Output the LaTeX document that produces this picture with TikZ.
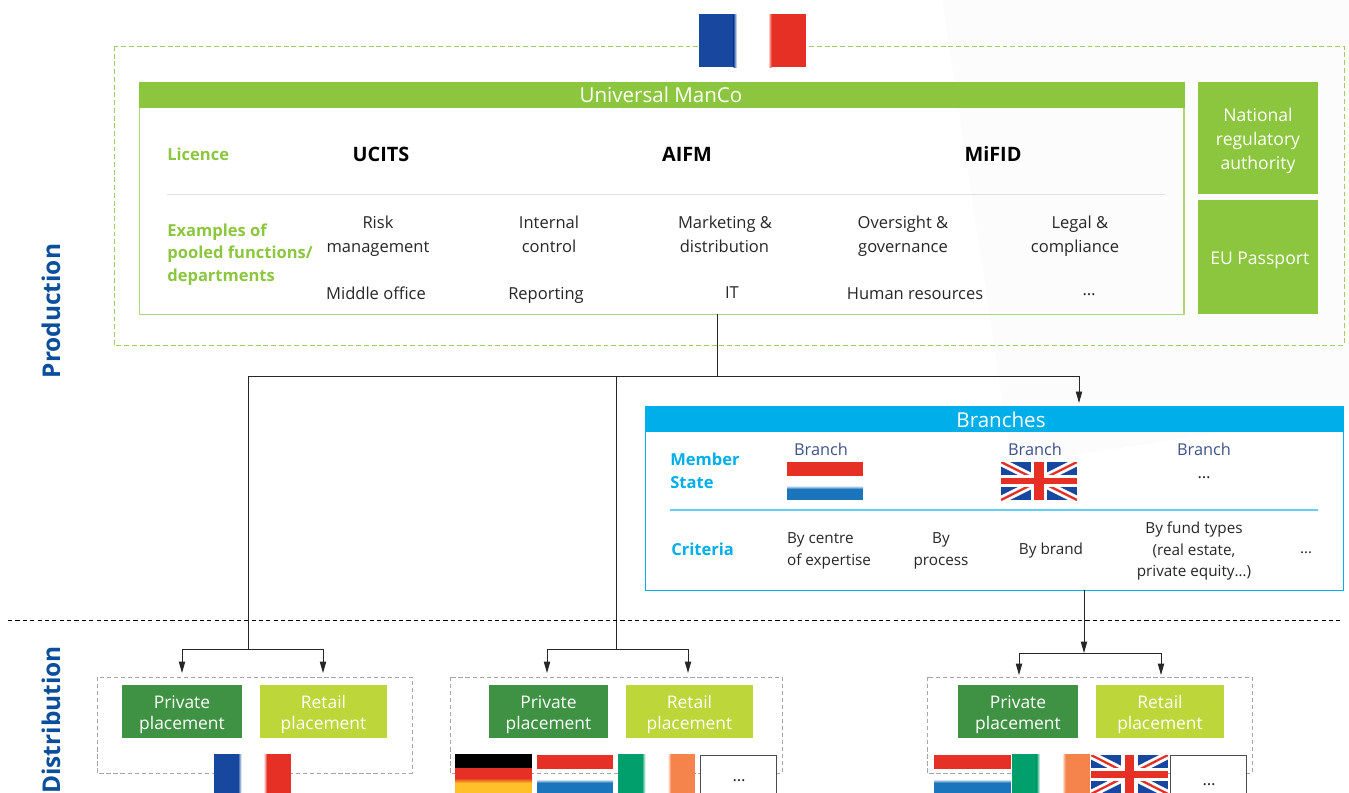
\documentclass[tikz,border=0pt]{standalone}
\usepackage{fontspec}
\setmainfont{Open Sans}
\usetikzlibrary{arrows.meta}

\definecolor{mancogreen}{HTML}{8CC63F}
\definecolor{branchblue}{HTML}{00AEEA}
\definecolor{privgreen}{HTML}{3F9143}
\definecolor{retailgreen}{HTML}{BDD63A}
\definecolor{navy}{HTML}{0B4F9C}
\definecolor{brnavy}{HTML}{3F5388}
\definecolor{frblue}{HTML}{17479E}
\definecolor{flagred}{HTML}{E63025}
\definecolor{nlblue}{HTML}{1B75BC}
\definecolor{iegreen}{HTML}{009F6B}
\definecolor{ieorange}{HTML}{F5844C}
\definecolor{deyellow}{HTML}{FFC02A}

\tikzset{
  txt/.style={font=\fontsize{9.4}{13.6}\selectfont,align=center,inner sep=0pt,text=black!85},
  lic/.style={font=\fontsize{11.3}{13}\selectfont\bfseries,inner sep=0pt},
  greenlbl/.style={txt,text=mancogreen,align=left,font=\fontsize{9.4}{12.8}\selectfont\bfseries},
  bluelbl/.style={txt,text=branchblue,align=left,font=\fontsize{9.4}{13}\selectfont\bfseries},
  brtxt/.style={txt,font=\fontsize{8.7}{12.2}\selectfont},
  brname/.style={brtxt,text=brnavy,font=\fontsize{9.3}{12}\selectfont},
  sidelbl/.style={font=\fontsize{13.9}{15}\selectfont\bfseries,text=navy,rotate=90,inner sep=0pt},
  head/.style={text=white,font=\fontsize{11.7}{13}\selectfont,inner sep=0pt},
  sidebox/.style={fill=mancogreen,text=white,font=\fontsize{10}{13.6}\selectfont,align=center,inner sep=0pt,minimum width=68.3pt},
  plcbox/.style={text=white,font=\fontsize{9.9}{12}\selectfont,align=center,inner sep=0pt,minimum height=30.2pt},
  frame/.style={line width=0.8pt,inner sep=0pt,outer sep=0pt,anchor=north west},
  lnk/.style={black!85,line width=0.5pt},
  arr/.style={lnk,-{Triangle[length=6.5pt,width=3.6pt]}},
  dots/.style={draw=black!70,line width=0.6pt,fill=white,inner sep=0pt,minimum width=43.2pt,minimum height=26pt,anchor=north west}
}

% pushes the text of a box down
\newcommand{\topgap}[1]{\rule{0pt}{#1}}

% flags, top left corner at x y, then w h
\newcommand{\flagthree}[8]{% x y w h left middle right gap
  \fill[#5] (#1,#2) rectangle ++(#3/2-#8/2,#4);
  \fill[#7] (#1+#3,#2) rectangle ++(-#3/2+#8/2,#4);
  \fill[#6] (#1+#3/2-#8/2,#2) rectangle ++(#8,#4);
  \shade[left color=#5,right color=#6] (#1+#3/2-#8/2-1.5,#2) rectangle ++(3.5,#4);
  \shade[left color=#6,right color=#7] (#1+#3/2+#8/2-2,#2) rectangle ++(3.5,#4);
}
\newcommand{\flagnl}[4]{%
  \fill[flagred] (#1,#2) rectangle ++(#3,#4*0.36);
  \fill[nlblue] (#1,#2+#4*0.7) rectangle ++(#3,#4*0.3);
  \shade[top color=white,bottom color=nlblue] (#1,#2+#4*0.62) rectangle ++(#3,#4*0.09);
}
\newcommand{\flaguk}[4]{%
  \begin{scope}
    \clip (#1,#2) rectangle ++(#3,#4);
    \fill[frblue] (#1,#2) rectangle ++(#3,#4);
    \draw[white,line width=4.5pt] (#1,#2) -- ++(#3,#4) (#1,#2+#4) -- ++(#3,-#4);
    \draw[flagred,line width=1.3pt] (#1,#2) -- ++(#3,#4) (#1,#2+#4) -- ++(#3,-#4);
    \fill[white] (#1+#3*0.39,#2) rectangle ++(#3*0.22,#4);
    \fill[white] (#1,#2+#4*0.33) rectangle ++(#3,#4*0.34);
    \fill[flagred] (#1+#3*0.44,#2) rectangle ++(#3*0.12,#4);
    \fill[flagred] (#1,#2+#4*0.41) rectangle ++(#3,#4*0.18);
  \end{scope}
}

\begin{document}
\begin{tikzpicture}[x=0.02cm,y=-0.02cm]
  \useasboundingbox (0,0) rectangle (1349,792);
  \fill[black!1.2] (942,0) -- (1349,0) -- (1349,412) -- (1012,465) -- cycle;

  % production
  \draw[mancogreen!85,dash pattern=on 2.8pt off 1.6pt,line width=0.5pt] (114,46) rectangle (1344,345);
  \flagthree{699}{14}{107}{53}{frblue}{white}{flagred}{35}

  \node[frame,draw=mancogreen!70,minimum width=594.6pt,minimum height=132pt] (manco) at (139.5,82.5) {};
  \fill[mancogreen] (139,82) rectangle (1185,108);
  \node[head] (mancohead) at (661,95) {Universal ManCo};
  \node[sidebox,minimum height=63.7pt] (natreg) at (1258,138) {\topgap{11pt}National\\regulatory\\authority};
  \node[sidebox,minimum height=64.9pt] (passport) at (1258,257) {\topgap{11.5pt}\hspace*{2pt}EU Passport};

  \node[greenlbl,anchor=west] (licence) at (167,154) {Licence};
  \node[lic] (ucits) at (381,154) {UCITS};
  \node[lic] (aifm) at (687,154) {AIFM};
  \node[lic] (mifid) at (993,154) {MiFID};
  \draw[black!12,line width=0.4pt] (167,194) -- (1165,194);

  \node[greenlbl,anchor=west] (pooled) at (167,254.5) {Examples of\\pooled functions/\\departments};
  \node[txt] (risk) at (378,236) {Risk\\management};
  \node[txt] (control) at (549,234) {Internal\\control};
  \node[txt,align=left] (market) at (725,234) {Marketing \&\\\hspace*{1pt}distribution};
  \node[txt] (oversight) at (903,236) {Oversight \&\\governance};
  \node[txt] (legal) at (1075,236) {\hspace*{5.5pt}Legal \&\\compliance};
  \node[txt] (middle) at (376,293) {Middle office};
  \node[txt] (report) at (546,295) {Reporting};
  \node[txt] (itdep) at (732,293) {IT};
  \node[txt] (human) at (915,294) {Human resources};
  \node[txt] (more) at (1089,295) {\dots};

  % branches
  \node[frame,draw=branchblue,line width=0.7pt,minimum width=397.2pt,minimum height=104.4pt] (branches) at (645.5,407) {};
  \fill[branchblue] (645,407) rectangle (1344,432);
  \node[head] (brhead) at (1001,420) {Branches};
  \node[bluelbl,anchor=west] (member) at (670,470.5) {Member\\State};
  \node[bluelbl,anchor=west] (criteria) at (671,549) {Criteria};
  \node[brname] (brnl) at (821,449) {Branch};
  \node[brname] (bruk) at (1035,449) {Branch};
  \node[brname] (brother) at (1204,449) {Branch};
  \flagnl{787}{462}{76}{38}
  \flaguk{1001}{462}{76}{38}
  \node[txt] (brdots) at (1204,478) {\dots};
  \draw[branchblue!60,line width=0.6pt] (670,510) -- (1318,510);
  \node[brtxt,align=left] (centre) at (829,551) {By centre\\of expertise};
  \node[brtxt] (process) at (941,551) {By\\process};
  \node[brtxt] (brand) at (1051,551) {By brand};
  \node[brtxt] (fund) at (1194,551) {By fund types\\(real estate,\\private equity\dots)};
  \node[brtxt] (crdots) at (1306,553) {\dots};

  % connectors
  \coordinate (hub) at (717,376);
  \coordinate (left) at (248,376);
  \coordinate (mid) at (616,376);
  \coordinate (right) at (1079,376);
  \coordinate (splitl) at (248,649);
  \coordinate (splitm) at (616,649);
  \coordinate (splitr) at (1084,653);
  \draw[lnk] (manco.south -| hub) -- (hub);
  \draw[lnk] (left) -- (hub);
  \draw[arr,shorten >=2.3pt] (hub) -- (right) -- (branches.north -| right);
  \draw[lnk] (left) -- (splitl);
  \draw[lnk] (mid) -- (splitm);
  \draw[arr] (branches.south -| splitr) -- (splitr);

  % separator
  \draw[black,dash pattern=on 2.4pt off 1.8pt,line width=0.5pt] (8,620) -- (1341,620);
  \node[sidelbl] (prod) at (51,311) {Production};
  \node[sidelbl] (dist) at (51,720) {Distribution};

  % distribution
  \foreach \n/\bx/\bw/\pc/\pw/\rc/\rw in {a/97/315/182/120/323.5/127,b/450/332/548.5/119/689.5/127,c/927/325/1018/120/1160/128} {
    \draw[black!35,dash pattern=on 2.4pt off 1.6pt,line width=0.5pt] (\bx,677) rectangle ++(\bw,96);
    \node[plcbox,fill=privgreen,minimum width=\pw*0.569pt] (priv\n) at (\pc,711.5) {\topgap{10.5pt}Private\\placement};
    \node[plcbox,fill=retailgreen,minimum width=\rw*0.569pt] (ret\n) at (\rc,711.5) {\topgap{10.5pt}Retail\\placement};
  }
  \draw[arr] (splitl) -| (182,673);
  \draw[arr] (splitl) -| (323,673);
  \draw[arr] (splitm) -| (547,673);
  \draw[arr] (splitm) -| (688,673);
  \draw[arr] (splitr) -| (1019,675);
  \draw[arr] (splitr) -| (1161,675);

  \begin{scope}
    \clip (0,0) rectangle (1349,792);
    \flagthree{214}{754}{77}{40}{frblue}{white}{flagred}{26}
    \fill[black] (455,754) rectangle ++(77,14);
    \fill[flagred] (455,768) rectangle ++(77,13);
    \fill[deyellow] (455,782) rectangle ++(77,12);
    \shade[top color=flagred,bottom color=deyellow] (455,778) rectangle ++(77,5);
    \flagnl{537}{755}{76}{39}
    \flagthree{618}{754}{77}{40}{iegreen}{white}{ieorange}{26}
    \flagnl{934}{755}{77}{39}
    \flagthree{1012}{754}{78}{40}{iegreen}{white}{ieorange}{26}
    \flaguk{1091}{755}{77}{39}
  \end{scope}
  \node[dots] (moreb) at (700,755) {};
  \node[dots] (morec) at (1170,755) {};
  \node[txt] (dotsb) at (739,781) {\dots};
  \node[txt] (dotsc) at (1209,785) {\dots};
\end{tikzpicture}
\end{document}
